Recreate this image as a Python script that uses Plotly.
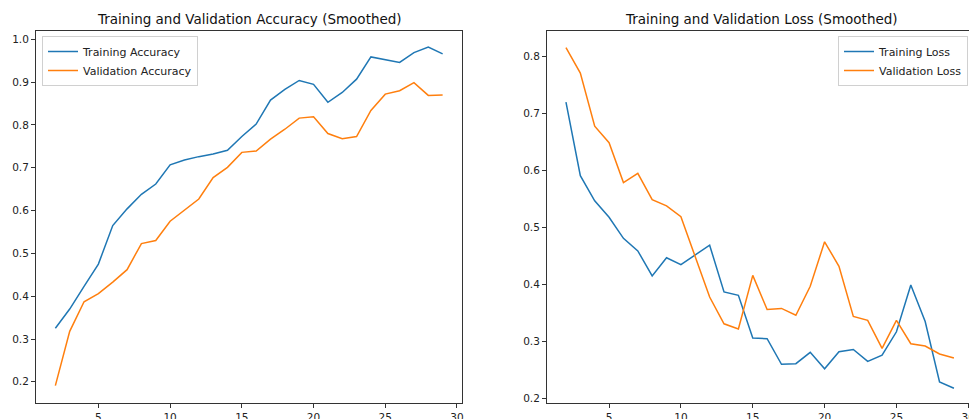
import plotly.graph_objects as go

# Epochs shown after smoothing
epochs = list(range(2, 30))

train_acc = [0.325, 0.370, 0.423, 0.475, 0.565, 0.604, 0.638, 0.662, 0.707, 0.718,
             0.726, 0.732, 0.741, 0.773, 0.802, 0.858, 0.883, 0.904, 0.895, 0.853,
             0.876, 0.907, 0.959, 0.953, 0.946, 0.969, 0.982, 0.966]
val_acc = [0.191, 0.318, 0.387, 0.406, 0.433, 0.462, 0.523, 0.530, 0.575, 0.601,
           0.627, 0.677, 0.701, 0.736, 0.739, 0.767, 0.790, 0.816, 0.819, 0.780,
           0.768, 0.773, 0.834, 0.872, 0.880, 0.899, 0.869, 0.870]

train_loss = [0.720, 0.591, 0.547, 0.518, 0.481, 0.459, 0.415, 0.447, 0.435, 0.452,
              0.469, 0.387, 0.381, 0.306, 0.305, 0.260, 0.261, 0.281, 0.252, 0.282,
              0.286, 0.265, 0.276, 0.317, 0.399, 0.335, 0.229, 0.218]
val_loss = [0.816, 0.771, 0.678, 0.649, 0.579, 0.595, 0.549, 0.538, 0.519, 0.450,
            0.378, 0.331, 0.322, 0.416, 0.356, 0.358, 0.346, 0.397, 0.475, 0.432,
            0.344, 0.337, 0.288, 0.337, 0.296, 0.292, 0.278, 0.271]

acc_ticks = [0.2, 0.3, 0.4, 0.5, 0.6, 0.7, 0.8, 0.9, 1.0]
loss_ticks = [0.2, 0.3, 0.4, 0.5, 0.6, 0.7, 0.8]
epoch_ticks = [5, 10, 15, 20, 25, 30]

BLUE = "#1f77b4"
ORANGE = "#ff7f0e"
FONT = "DejaVu Sans"
W, H = 969, 419

fig = go.Figure()

fig.add_trace(go.Scatter(x=epochs, y=train_acc, mode="lines", name="Training Accuracy",
                         line=dict(color=BLUE, width=1.5), xaxis="x", yaxis="y", legend="legend"))
fig.add_trace(go.Scatter(x=epochs, y=val_acc, mode="lines", name="Validation Accuracy",
                         line=dict(color=ORANGE, width=1.5), xaxis="x", yaxis="y", legend="legend"))
fig.add_trace(go.Scatter(x=epochs, y=train_loss, mode="lines", name="Training Loss",
                         line=dict(color=BLUE, width=1.5), xaxis="x2", yaxis="y2", legend="legend2"))
fig.add_trace(go.Scatter(x=epochs, y=val_loss, mode="lines", name="Validation Loss",
                         line=dict(color=ORANGE, width=1.5), xaxis="x2", yaxis="y2", legend="legend2"))

axis_common = dict(
    showgrid=False, zeroline=False, showline=True, linecolor="#333", linewidth=1,
    ticks="outside", ticklen=4, tickcolor="#333", tickwidth=1,
    tickfont=dict(family=FONT, size=10.5, color="#222"),
    ticklabeloverflow="allow", automargin=False,
)

y_bottom = (H - 403) / H
y_top = (H - 31) / H

legend_common = dict(
    yanchor="top", bgcolor="white", bordercolor="#d0d0d0", borderwidth=1,
    font=dict(family=FONT, size=11, color="#222"), tracegroupgap=0,
)

fig.update_layout(
    width=W, height=H,
    margin=dict(l=0, r=0, t=0, b=0, autoexpand=False),
    paper_bgcolor="white", plot_bgcolor="white",
    showlegend=True,
    xaxis=dict(domain=[36 / W, 462 / W], range=[0.65, 30.35], tickvals=epoch_ticks,
               anchor="y", mirror=True, **axis_common),
    yaxis=dict(domain=[y_bottom, y_top], range=[0.1505, 1.0195], tickvals=acc_ticks,
               tickformat=".1f", anchor="x", mirror=True, **axis_common),
    xaxis2=dict(domain=[547 / W, 1.0], range=[0.68, 30.05], tickvals=epoch_ticks,
                anchor="y2", mirror=True, **axis_common),
    yaxis2=dict(domain=[y_bottom, y_top], range=[0.192, 0.845], tickvals=loss_ticks,
                tickformat=".1f", anchor="x2", **axis_common),
    legend=dict(x=42 / W, y=(H - 36) / H, xanchor="left", **legend_common),
    legend2=dict(x=968 / W, y=(H - 36) / H, xanchor="right", **legend_common),
    annotations=[
        dict(text="Training and Validation Accuracy (Smoothed)", x=249 / W, y=(H - 19) / H,
             xref="paper", yref="paper", xanchor="center", yanchor="middle", showarrow=False,
             font=dict(family=FONT, size=13.5, color="#111")),
        dict(text="Training and Validation Loss (Smoothed)", x=761 / W, y=(H - 19) / H,
             xref="paper", yref="paper", xanchor="center", yanchor="middle", showarrow=False,
             font=dict(family=FONT, size=13.5, color="#111")),
    ],
)

fig.write_html("out.html")
